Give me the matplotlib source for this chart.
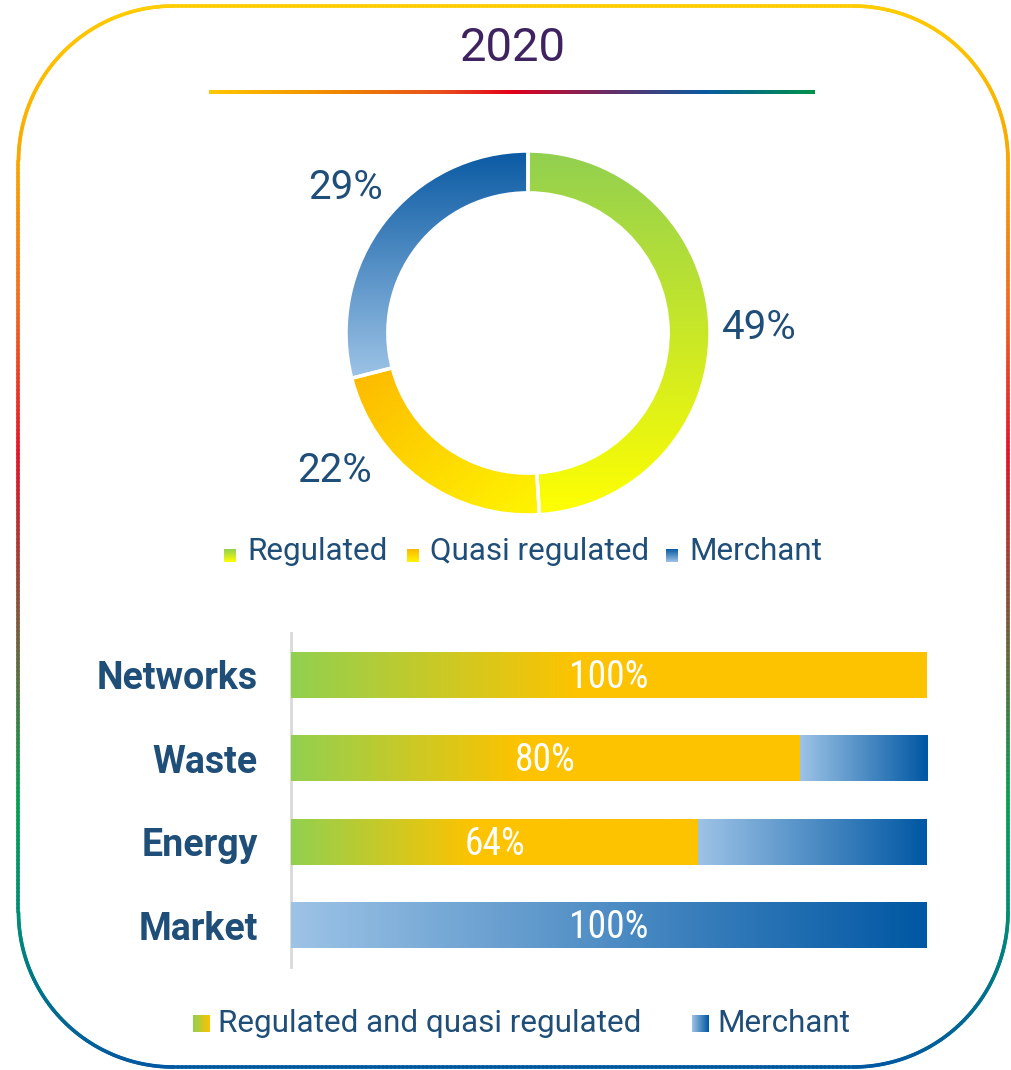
import numpy as np
import matplotlib
matplotlib.use("Agg")
import matplotlib.pyplot as plt
from matplotlib.colors import LinearSegmentedColormap
from matplotlib.collections import LineCollection

# canvas in pixels
W, H = 1012, 1070

year = "2020"

# donut: business mix
mix_labels = ["Regulated", "Quasi regulated", "Merchant"]
mix_values = [49, 22, 29]

# bars: share by sector
sectors = ["Networks", "Waste", "Energy", "Market"]
regulated_share = [100, 80, 64, 0]
merchant_share = [0, 20, 36, 100]
bar_legend = ["Regulated and quasi regulated", "Merchant"]

NAVY = "#1F4E79"
FONT = "Roboto"

cm_reg = LinearSegmentedColormap.from_list("reg", ["#FFFF00", "#92D050"])
cm_quasi = LinearSegmentedColormap.from_list("quasi", ["#FFF500", "#FDB800"])
cm_merch = LinearSegmentedColormap.from_list("merch", ["#9DC3E6", "#0A5AA3"])
cm_bar_reg = LinearSegmentedColormap.from_list("barreg", ["#92D050", "#FDC300"])
cm_bar_merch = LinearSegmentedColormap.from_list("barmerch", ["#9DC3E6", "#0057A3"])
cm_border = LinearSegmentedColormap.from_list(
    "border",
    [(0.0, "#FFCC00"), (0.14, "#F9A800"), (0.28, "#F06A20"), (0.42, "#E3142D"),
     (0.58, "#7D5A3C"), (0.75, "#06A050"), (0.87, "#008A7A"), (1.0, "#0058A0")])
cm_rule = LinearSegmentedColormap.from_list(
    "rule",
    [(0.0, "#FFC800"), (0.2, "#F08A00"), (0.38, "#E8501A"), (0.5, "#E3001B"),
     (0.65, "#6E2B62"), (0.82, "#0A5AA0"), (1.0, "#00914A")])

fig = plt.figure(figsize=(W / 100, H / 100), dpi=100)
fig.patch.set_facecolor("white")

# ---- overlay in pixel coordinates: frame, title, legends
bg = fig.add_axes([0, 0, 1, 1])
bg.axis("off")


def rounded_rect(x0, y0, x1, y1, r, n=60):
    pts = []
    corners = [(x1 - r, y0 + r, -90, 0), (x1 - r, y1 - r, 0, 90),
               (x0 + r, y1 - r, 90, 180), (x0 + r, y0 + r, 180, 270)]
    for cx, cy, a0, a1 in corners:
        a = np.radians(np.linspace(a0, a1, n))
        pts.append(np.column_stack([cx + r * np.cos(a), cy + r * np.sin(a)]))
    pts = np.vstack(pts + [pts[0][:1]])
    # densify straight parts so the colour ramp follows y
    out = []
    for p, q in zip(pts[:-1], pts[1:]):
        k = max(2, int(np.hypot(*(q - p)) / 4))
        out.append(np.linspace(p, q, k, endpoint=False))
    return np.vstack(out + [pts[-1:]])


pts = rounded_rect(18.5, 6, 1008, 1067, 155)
segs = np.stack([pts[:-1], pts[1:]], axis=1)
lc = LineCollection(segs, cmap=cm_border, linewidths=2.6, capstyle="round")
lc.set_array((segs[:, :, 1].mean(axis=1) - 6) / (1067 - 6))
lc.set_clim(0, 1)
bg.add_collection(lc)

bg.text(513, 48, year, ha="center", va="center", fontsize=34,
        family=FONT, color="#3F2360")
rule = np.linspace(0, 1, 512)[None, :]
bg.imshow(rule, cmap=cm_rule, extent=(209, 815, 94, 90), aspect="auto",
          interpolation="bilinear")

# donut legend
leg1_x = [224, 407, 666]
for x, lab, cm in zip(leg1_x, mix_labels, [cm_reg, cm_quasi, cm_merch]):
    sq = np.linspace(1, 0, 64)[:, None]
    bg.imshow(sq, cmap=cm, extent=(x, x + 12, 562, 549), aspect="auto",
              interpolation="bilinear")
    bg.text(x + 23, 552, lab, ha="left", va="center", fontsize=22.6,
            family=FONT, color=NAVY)

# bar legend
leg2_x = [193, 692]
for x, lab, cm in zip(leg2_x, bar_legend, [cm_bar_reg, cm_bar_merch]):
    sq = np.linspace(0, 1, 64)[None, :]
    bg.imshow(sq, cmap=cm, extent=(x, x + 17, 1032, 1015), aspect="auto",
              interpolation="bilinear")
    bg.text(x + 25, 1023, lab, ha="left", va="center", fontsize=22.6,
            family=FONT, color=NAVY)
bg.set_xlim(0, W)
bg.set_ylim(H, 0)

# ---- donut
cx, cy, R = 528, 333, 182
half = 1.1 * R
dax = fig.add_axes([(cx - half) / W, (H - cy - half) / H, 2 * half / W, 2 * half / H])
wedges, _ = dax.pie(mix_values, startangle=90, counterclock=False, radius=1,
                    wedgeprops=dict(width=0.23, edgecolor="white", linewidth=2.5))
for w, cm, mode in zip(wedges, [cm_reg, cm_quasi, cm_merch], ["v", "d", "v"]):
    bb = w.get_path().get_extents()
    gx, gy = np.meshgrid(np.linspace(0, 1, 128), np.linspace(0, 1, 128))
    grad = gy if mode == "v" else 0.5 * ((1 - gx) + gy)
    im = dax.imshow(grad, cmap=cm, origin="lower", aspect="auto",
                    extent=(bb.x0, bb.x1, bb.y0, bb.y1), interpolation="bilinear",
                    zorder=1)
    im.set_clip_path(w)
    w.set_facecolor("none")
    w.set_zorder(2)

# label anchors (regulated, quasi, merchant) in donut units
label_pos = [(1.066, 0.03, "left"), (-0.857, -0.753, "right"), (-0.797, 0.797, "right")]
for v, (lx, ly, ha) in zip(mix_values, label_pos):
    dax.text(lx, ly, f"{v}%", ha=ha, va="center", fontsize=29,
             family=FONT, color=NAVY)
dax.set_xlim(-1.1, 1.1)
dax.set_ylim(-1.1, 1.1)
dax.set_aspect("equal")
dax.axis("off")

# ---- bars
bx0, bx1, by0, by1 = 291, 927, 633, 967
bax = fig.add_axes([bx0 / W, (H - by1) / H, (bx1 - bx0) / W, (by1 - by0) / H])
ypos = np.arange(len(sectors))
bh = 0.55
reg_bars = bax.barh(ypos, regulated_share, height=bh, color="#FDC300", zorder=2)
mer_bars = bax.barh(ypos, merchant_share, left=regulated_share, height=bh,
                    color="#0057A3", zorder=2)

reg_grad = np.clip(np.linspace(0, 1, 512) / 0.45, 0, 1)[None, :]
mer_grad = np.linspace(0, 1, 512)[None, :]
for bars, grad, cm in [(reg_bars, reg_grad, cm_bar_reg), (mer_bars, mer_grad, cm_bar_merch)]:
    for b in bars:
        if b.get_width() <= 0:
            continue
        x0, y0 = b.get_x(), b.get_y()
        im = bax.imshow(grad, cmap=cm, aspect="auto", interpolation="bilinear",
                        extent=(x0, x0 + b.get_width(), y0 + bh, y0), zorder=3,
                        vmin=0, vmax=1)
        im.set_clip_path(b)

for i, (r, m) in enumerate(zip(regulated_share, merchant_share)):
    if r >= m:
        val, xc = r, r / 2
    else:
        val, xc = m, r + m / 2
    bax.text(xc, i + 0.03, f"{val}%", ha="center", va="center", fontsize=27,
             family=["Roboto Condensed", "Liberation Sans Narrow", FONT],
             color="white", zorder=5)

bax.set_xlim(0, 100)
bax.set_ylim(3.5, -0.5)
bax.set_yticks(ypos, sectors)
bax.tick_params(axis="y", length=0, pad=24, labelsize=27, labelcolor=NAVY)
for t in bax.get_yticklabels():
    t.set_fontweight("bold")
    t.set_family(FONT)
bax.set_xticks([])
for s in ["top", "right", "bottom"]:
    bax.spines[s].set_visible(False)
bax.spines["left"].set_color("#D9D9D9")
bax.spines["left"].set_linewidth(2)
bax.patch.set_alpha(0)

fig.savefig("out.png", dpi=100, facecolor="white")
